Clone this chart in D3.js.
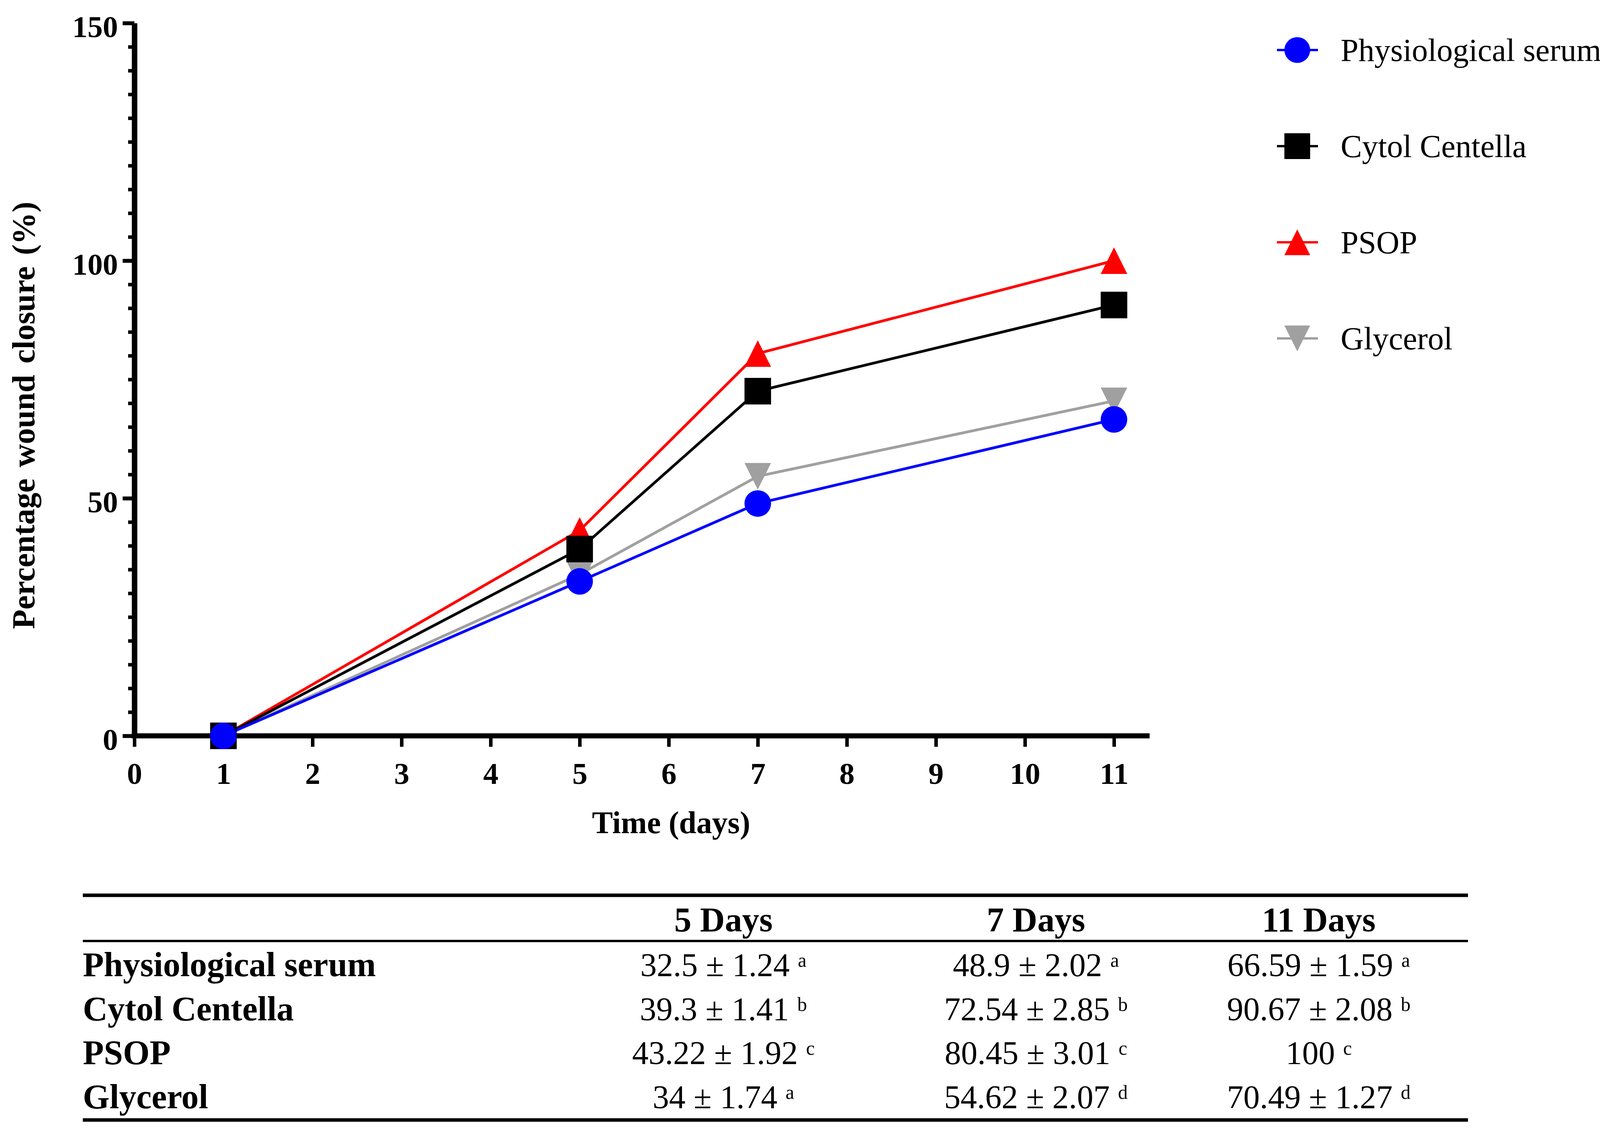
<!DOCTYPE html>
<html>
<head>
<meta charset="utf-8">
<script src="https://cdn.jsdelivr.net/npm/d3@7"></script>
<style>
  body { margin: 0; background: #fff; }
  text { font-family: "Liberation Serif", "DejaVu Serif", serif; fill: #000; }
</style>
</head>
<body>
<div id="chart"></div>
<script>
const days = [1, 5, 7, 11];
const seriesNames = ["Physiological serum", "Cytol Centella", "PSOP", "Glycerol"];
const physiologicalSerum = [0, 32.5, 48.9, 66.59];
const cytolCentella = [0, 39.3, 72.54, 90.67];
const psop = [0, 43.22, 80.45, 100];
const glycerol = [0, 34, 54.62, 70.49];
const sdValues = [[1.24, 2.02, 1.59], [1.41, 2.85, 2.08], [1.92, 3.01, null], [1.74, 2.07, 1.27]];
const sigLetters = [["a", "a", "a"], ["b", "b", "b"], ["c", "c", "c"], ["a", "d", "d"]];
const tableDays = ["5 Days", "7 Days", "11 Days"];
const xTickValues = [0, 1, 2, 3, 4, 5, 6, 7, 8, 9, 10, 11];
const yTickValues = [0, 50, 100, 150];

const seriesValues = [physiologicalSerum, cytolCentella, psop, glycerol];
const colors = ["#0000ff", "#000000", "#ff0000", "#a0a0a0"];
const shapes = ["circle", "square", "triangleUp", "triangleDown"];
const serif = '"Liberation Serif", "DejaVu Serif", serif';

const W = 4115, H = 2907;
const svg = d3.select("#chart").append("svg")
    .attr("width", W).attr("height", H);
svg.append("rect").attr("width", W).attr("height", H).attr("fill", "#fff");

const x = d3.scaleLinear().domain([0, 11.4]).range([344, 2943]);
const y = d3.scaleLinear().domain([0, 150]).range([1883, 59]);

// marker path around (0,0)
function shapePath(shape, s) {
  const h = s / 2;
  if (shape === "circle") return `M${-h},0A${h},${h} 0 1,0 ${h},0A${h},${h} 0 1,0 ${-h},0Z`;
  if (shape === "square") return `M${-h},${-h}H${h}V${h}H${-h}Z`;
  if (shape === "triangleUp") return `M0,${-h}L${h},${h}L${-h},${h}Z`;
  return `M0,${h}L${h},${-h}L${-h},${-h}Z`;
}
const markerSize = { circle: 68, square: 68, triangleUp: 68, triangleDown: 68 };

// axes
const yMinor = svg.append("g")
    .attr("transform", `translate(${x(0)},0)`)
    .call(d3.axisLeft(y).tickValues(d3.range(0, 151, 5)).tickSize(16).tickFormat(""));
yMinor.select(".domain").remove();
yMinor.selectAll("line").attr("stroke", "#000").attr("stroke-width", 9);

const yAxis = svg.append("g")
    .attr("transform", `translate(${x(0)},0)`)
    .call(d3.axisLeft(y).tickValues(yTickValues).tickSize(30).tickSizeOuter(0).tickPadding(12));
yAxis.select(".domain").attr("stroke", "#000").attr("stroke-width", 14);
yAxis.selectAll(".tick line").attr("stroke", "#000").attr("stroke-width", 10);
yAxis.selectAll(".tick text")
    .style("font-family", serif)
    .attr("dy", "0.46em")
    .attr("font-size", 78).attr("font-weight", "bold").attr("fill", "#000");

const xAxis = svg.append("g")
    .attr("transform", `translate(0,${y(0)})`)
    .call(d3.axisBottom(x).tickValues(xTickValues).tickSize(28).tickSizeOuter(0).tickPadding(40));
xAxis.select(".domain").attr("stroke", "#000").attr("stroke-width", 13)
    .attr("d", `M${x(0) - 7},0H${x(11.4)}`);
xAxis.selectAll(".tick line").attr("stroke", "#000").attr("stroke-width", 9);
xAxis.selectAll(".tick text")
    .style("font-family", serif)
    .attr("font-size", 78).attr("font-weight", "bold").attr("fill", "#000");

svg.append("text")
    .attr("x", 1718).attr("y", 2132)
    .attr("text-anchor", "middle")
    .attr("font-size", 80).attr("font-weight", "bold")
    .text("Time (days)");

svg.append("text")
    .attr("transform", "translate(88,1063) rotate(-90)")
    .attr("text-anchor", "middle")
    .attr("font-size", 82).attr("font-weight", "bold")
    .attr("word-spacing", 8)
    .text("Percentage wound closure (%)");

// lines and markers; drawing order keeps serum on top as in the figure
const line = d3.line().x((d, i) => x(days[i])).y(d => y(d));
const order = [2, 3, 1, 0];
order.forEach(k => {
  svg.append("path")
      .datum(seriesValues[k])
      .attr("fill", "none")
      .attr("stroke", colors[k])
      .attr("stroke-width", 7)
      .attr("d", line);
});
order.forEach(k => {
  svg.selectAll(null)
      .data(seriesValues[k])
      .enter()
      .append("path")
      .attr("transform", (d, i) => `translate(${x(days[i])},${y(d)})`)
      .attr("d", shapePath(shapes[k], markerSize[shapes[k]]))
      .attr("fill", colors[k]);
});

// legend
const legend = svg.append("g");
seriesNames.forEach((name, k) => {
  const cy = 128 + k * 246;
  legend.append("line")
      .attr("x1", 3269).attr("x2", 3374).attr("y1", cy).attr("y2", cy)
      .attr("stroke", colors[k]).attr("stroke-width", 6);
  legend.append("path")
      .attr("transform", `translate(3321,${cy})`)
      .attr("d", shapePath(shapes[k], 66))
      .attr("fill", colors[k]);
  legend.append("text")
      .attr("x", 3432).attr("y", cy).attr("dy", "0.34em")
      .attr("font-size", 82)
      .text(name);
});

// table under the chart
const tableLeft = 212, tableRight = 3758;
const colX = [1852, 2652, 3376];
const headerY = 2383;
const rowY = k => 2498 + k * 112.7;

[[2291, 9], [2408, 6], [2866, 9]].forEach(([yy, w]) => {
  svg.append("line")
      .attr("x1", tableLeft).attr("x2", tableRight)
      .attr("y1", yy).attr("y2", yy)
      .attr("stroke", "#000").attr("stroke-width", w);
});

tableDays.forEach((t, j) => {
  svg.append("text")
      .attr("x", colX[j]).attr("y", headerY)
      .attr("text-anchor", "middle")
      .attr("font-size", 88).attr("font-weight", "bold")
      .text(t);
});

seriesNames.forEach((name, k) => {
  svg.append("text")
      .attr("x", tableLeft).attr("y", rowY(k))
      .attr("font-size", 88).attr("font-weight", "bold")
      .text(name);
  [1, 2, 3].forEach((di, j) => {
    const sd = sdValues[k][j];
    const cell = svg.append("text")
        .attr("x", colX[j]).attr("y", rowY(k))
        .attr("text-anchor", "middle")
        .attr("font-size", 84);
    cell.append("tspan")
        .text(sd === null ? `${seriesValues[k][di]} ` : `${seriesValues[k][di]} \u00b1 ${sd} `);
    cell.append("tspan")
        .attr("dy", -24).attr("font-size", 50)
        .text(sigLetters[k][j]);
  });
});
</script>
</body>
</html>
